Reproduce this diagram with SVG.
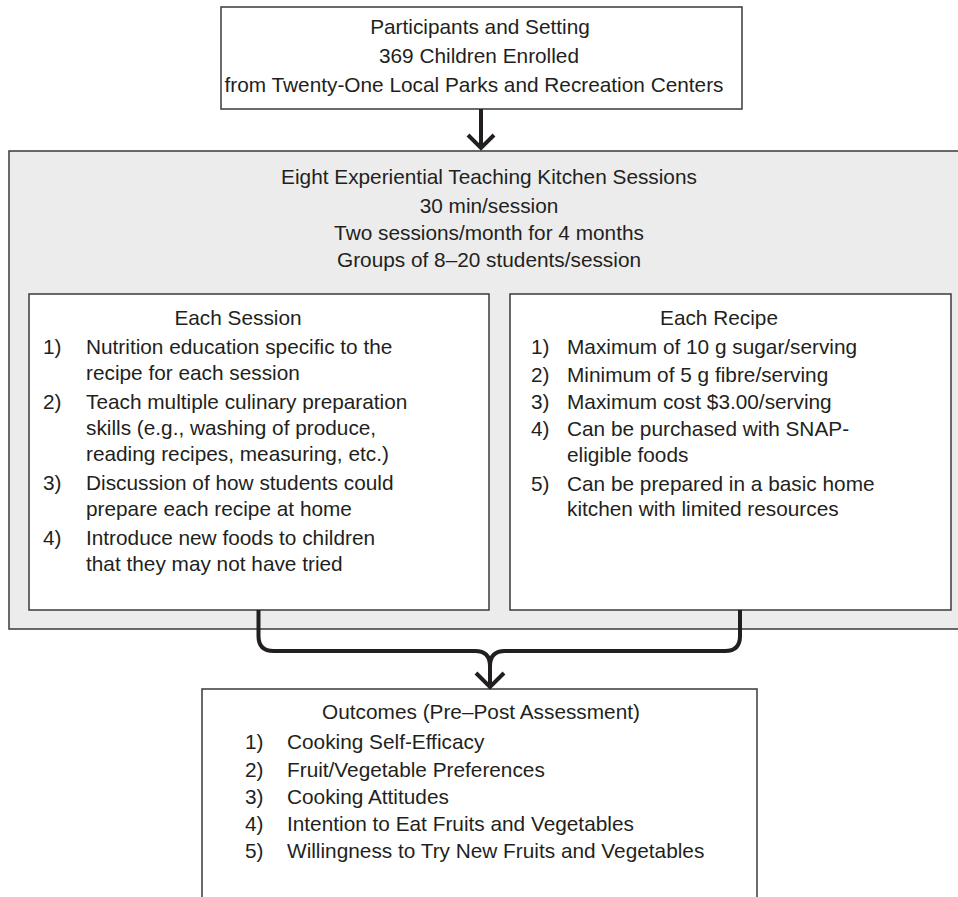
<svg xmlns="http://www.w3.org/2000/svg" width="958" height="897" viewBox="0 0 958 897">
  <style>
    .box { fill: #ffffff; stroke: #3a3a3a; stroke-width: 1.5; }
    .panel { fill: #ececec; stroke: #3a3a3a; stroke-width: 1.5; }
    text { font-family: "Liberation Sans", Arial, Helvetica, sans-serif; font-size: 20.8px; fill: #231f20; }
    .c { text-anchor: middle; }
    .wire { fill: none; stroke: #231f20; stroke-width: 4; stroke-linecap: butt; stroke-linejoin: miter; }
  </style>
  <rect width="958" height="897" fill="#ffffff"/>

  <!-- Participants -->
  <g id="participants">
    <rect class="box" x="221" y="7" width="521" height="102"/>
    <text class="c" x="480" y="34">Participants and Setting</text>
    <text class="c" x="479" y="63">369 Children Enrolled</text>
    <text class="c" x="474" y="92">from Twenty-One Local Parks and Recreation Centers</text>
  </g>

  <!-- Teaching kitchen programme panel -->
  <g id="sessions">
    <rect class="panel" x="9" y="151" width="975" height="478"/>
    <text class="c" x="489" y="184">Eight Experiential Teaching Kitchen Sessions</text>
    <text class="c" x="489" y="213">30 min/session</text>
    <text class="c" x="489" y="240">Two sessions/month for 4 months</text>
    <text class="c" x="489" y="267">Groups of 8–20 students/session</text>
  </g>

  <g id="each-session">
    <rect class="box" x="29" y="294" width="460" height="316"/>
    <text class="c" x="238" y="325">Each Session</text>
    <text x="43" y="354">1)</text>
    <text x="86" y="354">Nutrition education specific to the</text>
    <text x="86" y="380">recipe for each session</text>
    <text x="43" y="409">2)</text>
    <text x="86" y="409">Teach multiple culinary preparation</text>
    <text x="86" y="435">skills (e.g., washing of produce,</text>
    <text x="86" y="461">reading recipes, measuring, etc.)</text>
    <text x="43" y="490">3)</text>
    <text x="86" y="490">Discussion of how students could</text>
    <text x="86" y="516">prepare each recipe at home</text>
    <text x="43" y="545">4)</text>
    <text x="86" y="545">Introduce new foods to children</text>
    <text x="86" y="571">that they may not have tried</text>
  </g>

  <g id="each-recipe">
    <rect class="box" x="510" y="294" width="441" height="316"/>
    <text class="c" x="719" y="325">Each Recipe</text>
    <text x="531" y="354">1)</text>
    <text x="567" y="354">Maximum of 10 g sugar/serving</text>
    <text x="531" y="382">2)</text>
    <text x="567" y="382">Minimum of 5 g fibre/serving</text>
    <text x="531" y="409">3)</text>
    <text x="567" y="409">Maximum cost $3.00/serving</text>
    <text x="531" y="436">4)</text>
    <text x="567" y="436">Can be purchased with SNAP-</text>
    <text x="567" y="462">eligible foods</text>
    <text x="531" y="491">5)</text>
    <text x="567" y="491">Can be prepared in a basic home</text>
    <text x="567" y="516">kitchen with limited resources</text>
  </g>

  <!-- Outcomes -->
  <g id="outcomes">
    <rect class="box" x="202" y="689" width="555" height="230"/>
    <text class="c" x="481" y="719">Outcomes (Pre–Post Assessment)</text>
    <text x="245" y="749">1)</text>
    <text x="287" y="749">Cooking Self-Efficacy</text>
    <text x="245" y="777">2)</text>
    <text x="287" y="777">Fruit/Vegetable Preferences</text>
    <text x="245" y="804">3)</text>
    <text x="287" y="804">Cooking Attitudes</text>
    <text x="245" y="831">4)</text>
    <text x="287" y="831">Intention to Eat Fruits and Vegetables</text>
    <text x="245" y="858">5)</text>
    <text x="287" y="858">Willingness to Try New Fruits and Vegetables</text>
  </g>

  <!-- Connectors -->
  <g id="connectors">
    <path class="wire" d="M481 109 V148"/>
    <path class="wire" d="M468 135 L481 148 L494 135"/>
    <path class="wire" d="M258.5 610 V636 Q258.5 651 273.5 651 H475 Q490 651 490 666 V687"/>
    <path class="wire" d="M740 610 V636 Q740 651 725 651 H505 Q490 651 490 666"/>
    <path class="wire" d="M476 673 L490 687 L504 673"/>
  </g>
</svg>
